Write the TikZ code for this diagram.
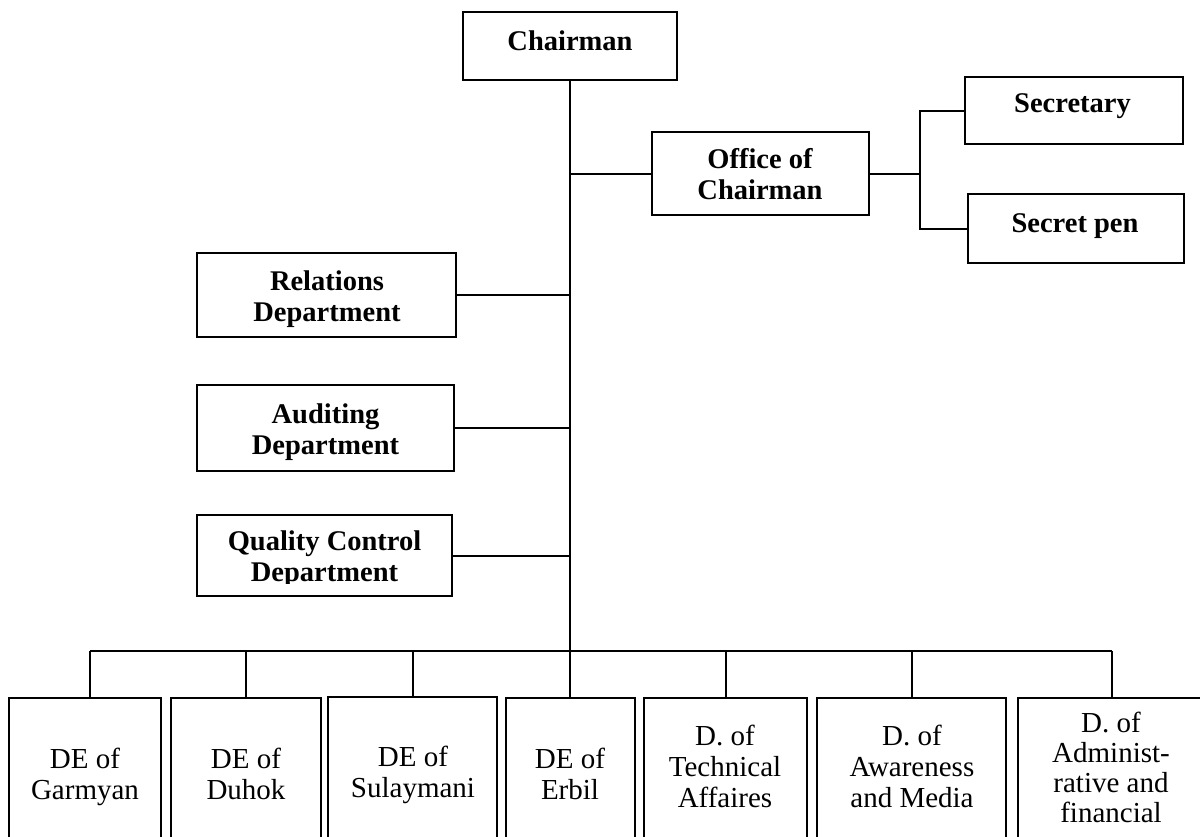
\documentclass[tikz,border=0pt]{standalone}
\usepackage{fontspec}
\setmainfont{Liberation Serif}
\begin{document}
\begin{tikzpicture}[x=1pt,y=-1pt,
  frame/.style={draw=black, line width=2pt, inner sep=0pt, rectangle},
  link/.style={draw=black, line width=2pt},
  boldtxt/.style={inner sep=0pt, anchor=north, align=center,
    font=\fontsize{28.5}{31}\selectfont\bfseries},
  plaintxt/.style={inner sep=0pt, anchor=north, align=center,
    font=\fontsize{29}{31}\selectfont}]
\useasboundingbox (0,0) rectangle (1200,836);
\fill[white] (0,0) rectangle (1200,836);
\clip (0,0) rectangle (1200,836);

% upper boxes
\node[frame, minimum width=214pt, minimum height=68pt] (chair)  at (570,46) {};
\node[frame, minimum width=217pt, minimum height=83pt] (office) at (760.5,173.5) {};
\node[frame, minimum width=218pt, minimum height=67pt] (secr)   at (1074,110.5) {};
\node[frame, minimum width=216pt, minimum height=69pt] (pen)    at (1076,228.5) {};
\node[frame, minimum width=259pt, minimum height=84pt] (rel)    at (326.5,295) {};
\node[frame, minimum width=257pt, minimum height=86pt] (aud)    at (325.5,428) {};
\node[frame, minimum width=255pt, minimum height=81pt] (qual)   at (324.5,555.5) {};

% lower row (runs past the lower edge)
\node[frame, minimum width=152pt, minimum height=202pt] (garm)  at (85,799) {};
\node[frame, minimum width=150pt, minimum height=202pt] (duhok) at (246,799) {};
\node[frame, minimum width=169pt, minimum height=203pt] (sulay) at (412.5,798.5) {};
\node[frame, minimum width=129pt, minimum height=202pt] (erbil) at (570.5,799) {};
\node[frame, minimum width=163pt, minimum height=202pt] (tech)  at (725.5,799) {};
\node[frame, minimum width=189pt, minimum height=202pt] (aware) at (911.5,799) {};
\node[frame, minimum width=188pt, minimum height=202pt] (admin) at (1112,799) {};

% labels
\node[boldtxt] (chair-t)  at (570,30.7)   {Chairman};
\node[boldtxt] (office-t) at (760,148.3)  {Office of\\Chairman};
\node[boldtxt] (secr-t)   at (1072.5,93.7) {Secretary};
\node[boldtxt] (pen-t)    at (1075,213.7) {Secret pen};
\node[boldtxt] (rel-t)    at (327,270.7)  {Relations\\Department};
\node[boldtxt] (aud-t)    at (325.5,403.7) {Auditing\\Department};
\begin{scope}
  \clip (197,515) rectangle (452,583);
  \node[boldtxt] (qual-t) at (324.5,530.7) {Quality Control\\Department};
\end{scope}

\node[plaintxt] (garm-t)  at (85,748.2)    {DE of\\Garmyan};
\node[plaintxt] (duhok-t) at (246,748.2)   {DE of\\Duhok};
\node[plaintxt] (sulay-t) at (413,746.2)   {DE of\\Sulaymani};
\node[plaintxt] (erbil-t) at (570,748.2)   {DE of\\Erbil};
\node[plaintxt] (tech-t)  at (725,725.2)   {D. of\\Technical\\Affaires};
\node[plaintxt] (aware-t) at (912,725.2)   {D. of\\Awareness\\and Media};
\node[plaintxt, font=\fontsize{29}{30}\selectfont] (admin-t) at (1111,712.2)
  {D. of\\Administ-\\rative and\\financial};

% trunk and side branches
\draw[link] (chair.south) -- (chair.south |- erbil.north);
\draw[link] (office.west) -- (office.west -| chair.south);
\draw[link] (rel.east)  -- (rel.east -| chair.south);
\draw[link] (aud.east)  -- (aud.east -| chair.south);
\draw[link] (qual.east) -- (qual.east -| chair.south);

% office fork
\draw[link] (office.east) -- ++(50,0) coordinate (fork);
\draw[link] (secr.west) -| (fork) |- (pen.west);

% bus to the lower row
\coordinate (bus) at (0,651);
\draw[link] ([xshift=5pt]garm.north |- bus) -- (admin.north |- bus);
\draw[link] ([xshift=5pt]garm.north |- bus) -- ([xshift=5pt]garm.north);
\foreach \b in {duhok,sulay,tech,aware,admin}
  \draw[link] (\b.north |- bus) -- (\b.north);
\end{tikzpicture}
\end{document}
